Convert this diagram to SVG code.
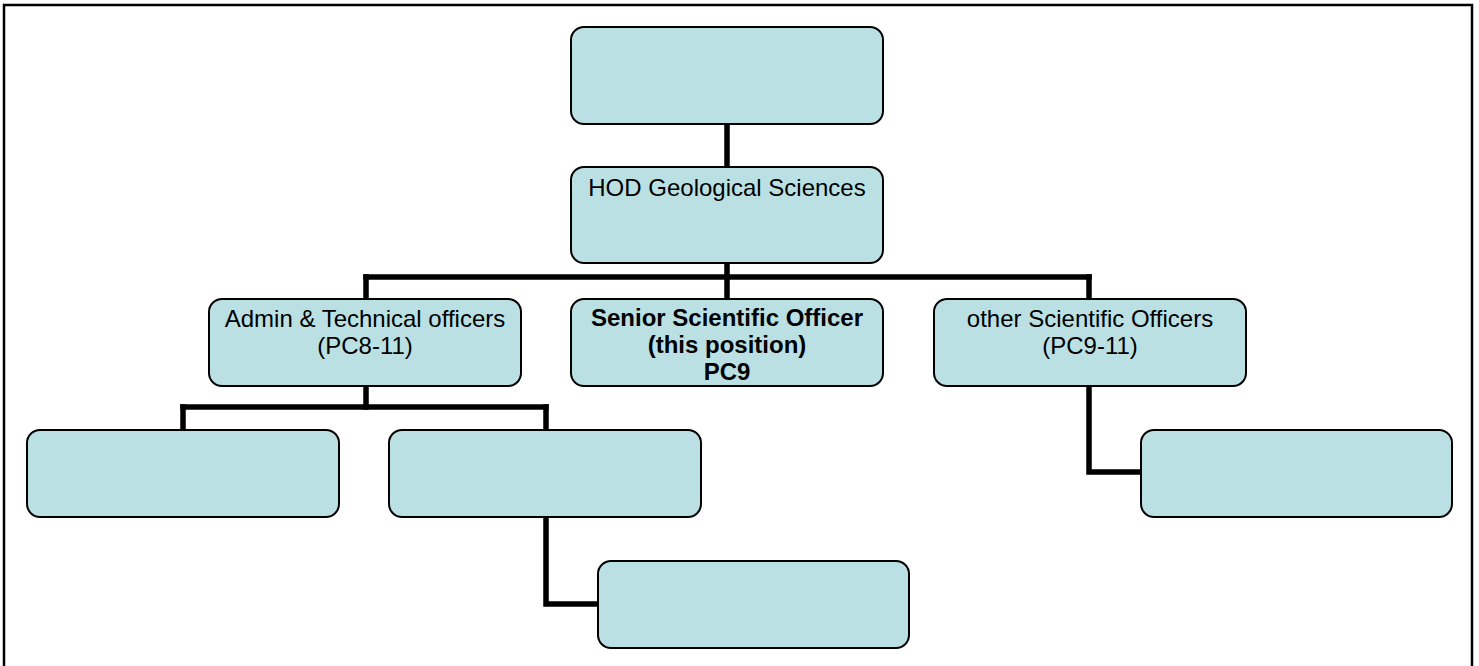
<svg xmlns="http://www.w3.org/2000/svg" width="1479" height="666" viewBox="0 0 1479 666">
<style>
.node{fill:#bbe0e3;stroke:#000;stroke-width:2}
.conn{fill:none;stroke:#000;stroke-width:5.5;stroke-linecap:square}
.t{font-family:"Liberation Sans",Arial,sans-serif;font-size:24px;fill:#000;text-anchor:middle}
.b{font-weight:bold}
</style>
<rect x="0" y="0" width="1479" height="666" fill="#fff"/>
<rect x="4" y="5" width="1468" height="700" fill="none" stroke="#000" stroke-width="2.5"/>
<g id="connectors">
<path class="conn" d="M727,124 V167"/>
<path class="conn" d="M727,262 V299"/>
<path class="conn" d="M366,277 H1089"/>
<path class="conn" d="M366,277 V299"/>
<path class="conn" d="M1089,277 V299"/>
<path class="conn" d="M366,386 V407"/>
<path class="conn" d="M183,407 H546"/>
<path class="conn" d="M183,407 V430"/>
<path class="conn" d="M546,407 V430"/>
<path class="conn" d="M1089,386 V472 H1141"/>
<path class="conn" d="M546,517 V604 H598"/>
</g>
<g id="top"><rect class="node" x="571" y="27" width="312" height="97" rx="13"/></g>
<g id="hod"><rect class="node" x="571" y="167" width="312" height="96" rx="13"/>
<text class="t" x="727" y="196">HOD Geological Sciences</text></g>
<g id="admin"><rect class="node" x="209" y="299" width="312" height="87" rx="13"/>
<text class="t" x="365" y="327">Admin &amp; Technical officers</text>
<text class="t" x="365" y="354">(PC8-11)</text></g>
<g id="senior"><rect class="node" x="571" y="299" width="312" height="87" rx="13"/>
<text class="t b" x="727" y="326">Senior Scientific Officer</text>
<text class="t b" x="727" y="353">(this position)</text>
<text class="t b" x="727" y="380">PC9</text></g>
<g id="other"><rect class="node" x="934" y="299" width="312" height="87" rx="13"/>
<text class="t" x="1090" y="327">other Scientific Officers</text>
<text class="t" x="1090" y="354">(PC9-11)</text></g>
<g id="sub1"><rect class="node" x="27" y="430" width="312" height="87" rx="13"/></g>
<g id="sub2"><rect class="node" x="389" y="430" width="312" height="87" rx="13"/></g>
<g id="sub3"><rect class="node" x="1141" y="430" width="311" height="87" rx="13"/></g>
<g id="sub4"><rect class="node" x="598" y="561" width="311" height="87" rx="13"/></g>
</svg>
